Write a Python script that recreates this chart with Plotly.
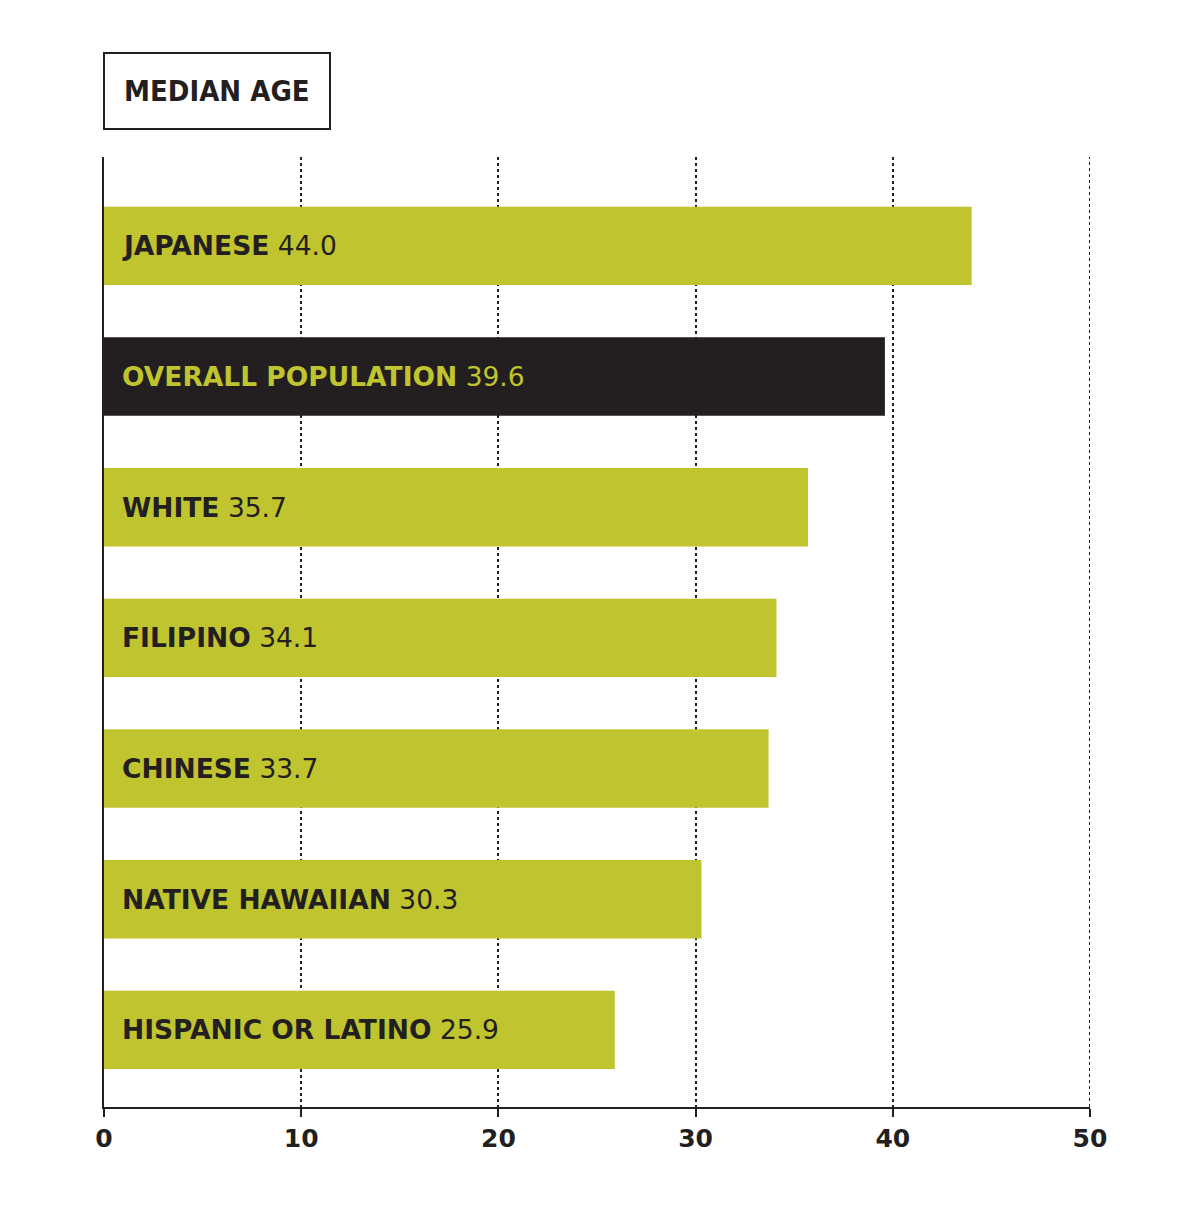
import plotly.graph_objects as go

categories = ["JAPANESE", "OVERALL POPULATION", "WHITE", "FILIPINO", "CHINESE", "NATIVE HAWAIIAN", "HISPANIC OR LATINO"]
values = [44.0, 39.6, 35.7, 34.1, 33.7, 30.3, 25.9]
highlight = "OVERALL POPULATION"
tick_vals = [0, 10, 20, 30, 40, 50]
title_text = "MEDIAN AGE"

GREEN = "#BFC42F"
DARK = "#231F20"
LABEL_FONT = "DejaVu Sans, Verdana, sans-serif"

bar_colors = [DARK if c == highlight else GREEN for c in categories]
text_colors = [GREEN if c == highlight else DARK for c in categories]

fig = go.Figure()
fig.add_trace(go.Bar(
    x=values, y=categories, orientation="h",
    marker=dict(color=bar_colors, line=dict(width=0)),
    width=0.6, hoverinfo="skip", showlegend=False,
))

for c, v, tc in zip(categories, values, text_colors):
    fig.add_annotation(
        x=0, y=c, xref="x", yref="y", xanchor="left", yanchor="middle",
        xshift=16, showarrow=False,
        text=f"<b>{c}</b> {v:.1f}",
        font=dict(family=LABEL_FONT, size=26.5, color=tc),
    )

# dotted gridline at the right edge (plotly hides the edge gridline)
fig.add_shape(type="line", xref="x", yref="paper", x0=tick_vals[-1], x1=tick_vals[-1],
              y0=0, y1=1, line=dict(color=DARK, width=2, dash="dot"), layer="below")

# title box
fig.add_shape(type="rect", xref="paper", yref="paper",
              x0=0, x1=226 / 986, y0=(1107 - 129) / 950, y1=(1107 - 53) / 950,
              line=dict(color=DARK, width=2), fillcolor="white", layer="above")
fig.add_annotation(
    xref="paper", yref="paper", x=113 / 986, y=(1107 - 91) / 950,
    xanchor="center", yanchor="middle", showarrow=False,
    text=title_text,
    font=dict(family="DejaVu Sans Condensed, DejaVu Sans, sans-serif", size=29,
              color=DARK, weight="bold"),
)

fig.update_layout(
    width=1200, height=1222,
    margin=dict(l=104, r=110, t=157, b=115),
    paper_bgcolor="white", plot_bgcolor="white",
    bargap=0.4,
    xaxis=dict(
        range=[0, 50], tickvals=tick_vals, ticktext=[str(t) for t in tick_vals],
        showgrid=True, gridcolor=DARK, griddash="dot", gridwidth=1.5,
        showline=True, linecolor=DARK, linewidth=1.5,
        ticks="outside", ticklen=8, tickcolor=DARK, tickwidth=1.5,
        tickfont=dict(family=LABEL_FONT, size=25, color=DARK, weight="bold"),
        zeroline=False, fixedrange=True,
    ),
    yaxis=dict(
        range=[6.59, -0.68], showticklabels=False, showgrid=False,
        showline=True, linecolor=DARK, linewidth=1.5, ticks="", zeroline=False,
    ),
)

fig.write_html("out.html")
